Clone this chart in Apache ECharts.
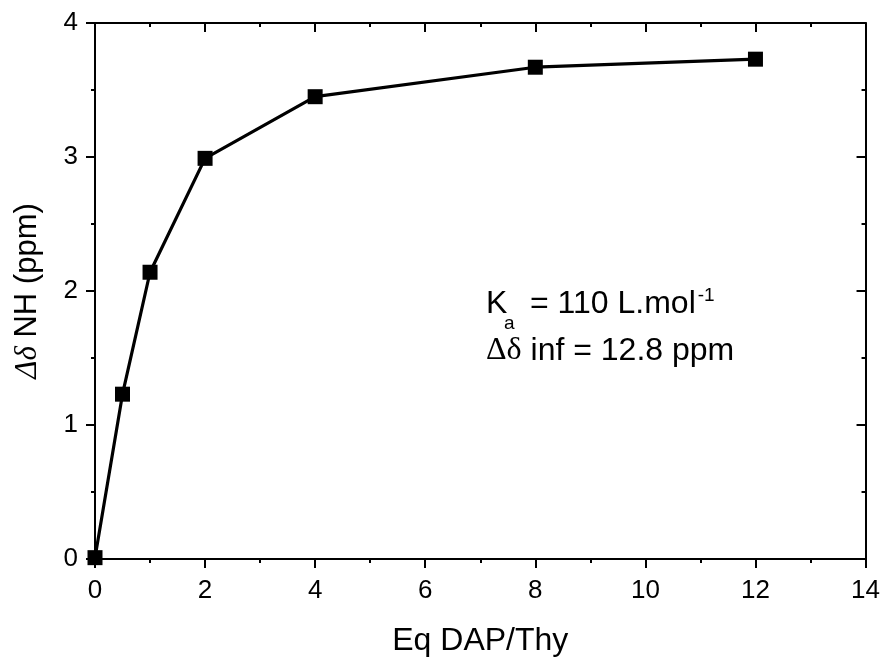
<!DOCTYPE html>
<html>
<head>
<meta charset="utf-8">
<script src="https://cdn.jsdelivr.net/npm/echarts@6/dist/echarts.min.js"></script>
<style>html,body{margin:0;padding:0;background:#fff}#c{width:883px;height:662px}</style>
</head>
<body>
<div id="c"></div>
<script>
const eqValues = [0, 0.5, 1, 2, 4, 8, 12];
const deltaNH = [0.01, 1.23, 2.14, 2.99, 3.45, 3.67, 3.73];
const xTitle = 'Eq DAP/Thy';
const yTitleParts = ['Δδ', ' NH (ppm)'];
const annotKa = ['K', 'a', '= 110 L.mol', '-1'];
const annotInf = ['Δδ', ' inf = 12.8 ppm'];

const chart = echarts.init(document.getElementById('c'), null, {renderer: 'canvas'});
const FONT = 'Liberation Sans, Arial, sans-serif';
const SERIF = 'Liberation Serif, Times New Roman, serif';
const ctx = document.createElement('canvas').getContext('2d');
function tw(text, font) { ctx.font = font; return ctx.measureText(text).width; }

const axisCommon = {
  axisLine: {show: true, onZero: false, lineStyle: {color: '#000', width: 2}},
  splitLine: {show: false},
  minorSplitLine: {show: false}
};
const bigFont = '32px ' + FONT;
const eqLeft = 530;
const supLeft = eqLeft + tw(annotKa[2], bigFont) + 2;
const deltaW = tw(annotInf[0], '32px ' + SERIF);

chart.setOption({
  animation: false,
  backgroundColor: '#fff',
  grid: {left: 95, right: 16, top: 23, bottom: 98, containLabel: false},
  xAxis: [
    Object.assign({}, axisCommon, {
      type: 'value', position: 'bottom', min: 0, max: 14, interval: 2,
      axisTick: {show: true, inside: false, length: 9, lineStyle: {color: '#000', width: 2}},
      minorTick: {show: true, splitNumber: 2, length: 4, lineStyle: {color: '#000', width: 2}},
      axisLabel: {color: '#000', fontSize: 26, fontFamily: FONT, margin: 19},
      name: xTitle, nameLocation: 'middle', nameGap: 66,
      nameTextStyle: {color: '#000', fontSize: 32, fontFamily: FONT}
    }),
    Object.assign({}, axisCommon, {
      type: 'value', position: 'top', min: 0, max: 14, interval: 2,
      axisTick: {show: true, inside: true, length: 9, lineStyle: {color: '#000', width: 2}},
      minorTick: {show: true, splitNumber: 2, length: 4, lineStyle: {color: '#000', width: 2}},
      axisLabel: {show: false}
    })
  ],
  yAxis: [
    Object.assign({}, axisCommon, {
      type: 'value', position: 'left', min: 0, max: 4, interval: 1,
      axisTick: {show: true, inside: false, length: 9, lineStyle: {color: '#000', width: 2}},
      minorTick: {show: true, splitNumber: 2, length: 4, lineStyle: {color: '#000', width: 2}},
      axisLabel: {color: '#000', fontSize: 26, fontFamily: FONT, margin: 17},
      name: '{d|' + yTitleParts[0] + '}{t|' + yTitleParts[1] + '}',
      nameLocation: 'middle', nameGap: 52,
      nameTextStyle: {
        color: '#000', fontSize: 31, fontFamily: FONT,
        rich: {
          d: {fontSize: 31, fontStyle: 'italic', fontFamily: SERIF, color: '#000'},
          t: {fontSize: 31, fontFamily: FONT, color: '#000'}
        }
      }
    }),
    Object.assign({}, axisCommon, {
      type: 'value', position: 'right', min: 0, max: 4, interval: 1,
      axisTick: {show: true, inside: true, length: 9, lineStyle: {color: '#000', width: 2}},
      minorTick: {show: true, splitNumber: 2, length: 4, lineStyle: {color: '#000', width: 2}},
      axisLabel: {show: false}
    })
  ],
  series: [{
    type: 'line',
    xAxisIndex: 0, yAxisIndex: 0,
    data: eqValues.map((x, i) => [x, deltaNH[i]]),
    symbol: 'rect', symbolSize: 15,
    showAllSymbol: true,
    clip: true,
    lineStyle: {color: '#000', width: 3.2},
    itemStyle: {color: '#000'},
    z: 3
  }],
  graphic: [
    {type: 'text', left: 486, top: 288, style: {text: annotKa[0], font: bigFont, fill: '#000'}},
    {type: 'text', left: 504, top: 314, style: {text: annotKa[1], font: '19px ' + FONT, fill: '#000'}},
    {type: 'text', left: eqLeft, top: 288, style: {text: annotKa[2], font: bigFont, fill: '#000'}},
    {type: 'text', left: supLeft, top: 286, style: {text: annotKa[3], font: '19px ' + FONT, fill: '#000'}},
    {type: 'text', left: 486, top: 335, style: {text: annotInf[0], font: '32px ' + SERIF, fill: '#000'}},
    {type: 'text', left: 486 + deltaW, top: 335, style: {text: annotInf[1], font: bigFont, fill: '#000'}}
  ]
});
</script>
</body>
</html>
